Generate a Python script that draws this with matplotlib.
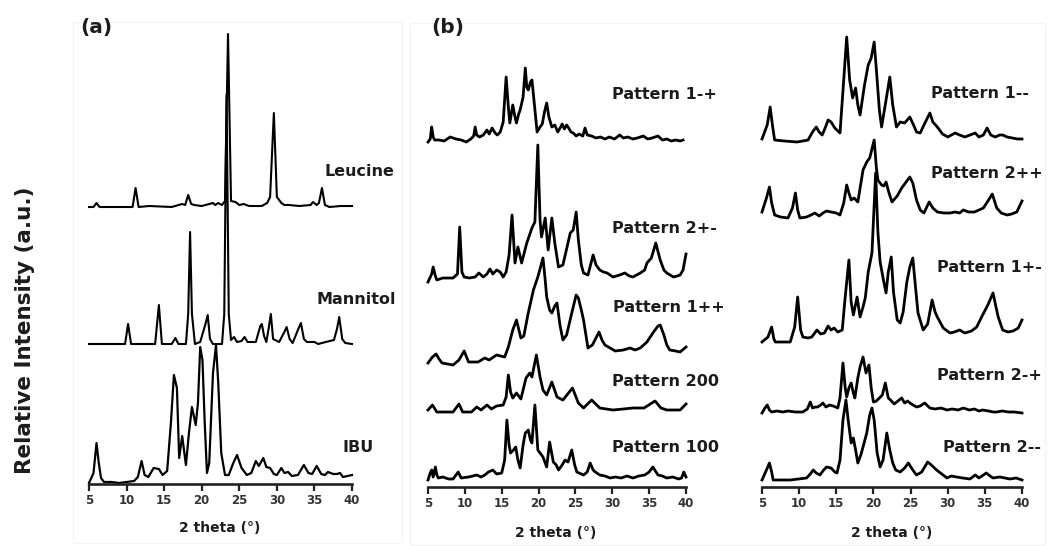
import numpy as np
import matplotlib
matplotlib.use("Agg")
import matplotlib.pyplot as plt
from matplotlib.patches import Rectangle

plt.rcParams['font.family'] = ['DejaVu Sans']

W, H = 1048, 546

# ---------------- diffraction data: (2 theta, relative intensity above trace baseline) ----------------
LEUCINE = [(5.0, 0), (5.6, 0), (6.0, 4), (6.4, 0), (8.0, 0), (10.8, 0), (11.2, 19), (11.6, 0), (13.0, 1),
           (16.0, 0), (17.4, 3), (17.8, 2), (18.2, 12), (18.6, 3), (19.0, 2), (20.0, 1), (21.0, 3), (21.5, 4),
           (21.8, 2), (22.2, 4), (22.7, 2), (23.1, 6), (23.5, 173), (23.9, 6), (24.5, 5), (25.0, 2), (25.6, 3),
           (26.3, 1), (28.0, 1), (28.7, 4), (29.1, 10), (29.6, 94), (30.0, 10), (30.6, 4), (31.0, 2), (31.6, 2),
           (33.0, 1), (34.5, 2), (34.8, 5), (35.3, 2), (35.6, 4), (36.0, 19), (36.4, 2), (37.0, 0), (38.5, 1),
           (40.0, 1)]

MANNITOL = [(5.0, 0), (9.8, 0), (10.2, 20), (10.6, 0), (13.8, 0), (14.3, 39), (14.7, 0), (16.0, 0), (16.5, 6),
            (16.9, 0), (17.9, 0), (18.2, 30), (18.45, 112), (18.7, 30), (19.1, 0), (19.8, 2), (20.5, 20),
            (20.8, 29), (21.1, 5), (21.5, 0), (22.7, 0), (23.0, 30), (23.3, 249), (23.6, 30), (23.9, 4),
            (24.3, 7), (24.7, 2), (25.3, 3), (25.7, 7), (26.1, 2), (27.2, 2), (27.8, 18), (28.0, 20), (28.3, 8),
            (28.6, 2), (28.9, 15), (29.2, 30), (29.5, 5), (30.3, 2), (31.0, 12), (31.3, 17), (31.7, 5),
            (32.1, 1), (32.8, 14), (33.2, 21), (33.6, 5), (34.0, 2), (35.0, 2), (35.5, 0), (36.5, 2),
            (37.6, 4), (38.0, 15), (38.3, 27), (38.7, 5), (39.1, 1), (40.0, 0)]

IBU = [(5.0, 0), (5.6, 10), (6.0, 40), (6.3, 20), (6.6, 5), (7.0, 1), (8.0, 1), (9.0, 0), (10.0, 1), (11.0, 2),
       (11.5, 6), (12.0, 22), (12.4, 8), (12.9, 6), (13.6, 15), (14.3, 14), (14.8, 8), (15.4, 12), (15.9, 60),
       (16.3, 108), (16.7, 95), (17.0, 25), (17.4, 47), (17.9, 18), (18.3, 50), (18.7, 76), (19.2, 58),
       (19.5, 80), (19.8, 136), (20.1, 123), (20.4, 60), (20.7, 10), (21.0, 20), (21.5, 110), (21.9, 138),
       (22.2, 100), (22.6, 30), (23.1, 8), (23.6, 8), (24.2, 20), (24.7, 28), (25.3, 15), (26.0, 8),
       (26.6, 10), (27.2, 22), (27.6, 17), (28.2, 25), (28.6, 16), (29.1, 15), (29.6, 9), (30.0, 8),
       (30.6, 15), (31.0, 10), (31.5, 11), (32.0, 7), (32.8, 8), (33.6, 18), (34.2, 10), (34.7, 9),
       (35.3, 17), (35.9, 9), (36.4, 8), (36.8, 11), (37.5, 9), (38.0, 9), (38.4, 10), (38.8, 6), (39.4, 7),
       (40.0, 8)]

P1_MP = [(5.0, 0), (5.3, 3), (5.5, 15), (5.7, 5), (5.9, 2), (6.5, 2), (7.2, 1), (8.0, 5), (8.8, 3), (9.5, 2),
         (10.2, 0), (10.8, 3), (11.2, 6), (11.4, 15), (11.6, 7), (12.0, 5), (12.5, 7), (13.0, 12), (13.3, 8),
         (13.7, 14), (14.1, 9), (14.4, 7), (14.8, 10), (15.2, 20), (15.6, 65), (15.9, 35), (16.1, 19),
         (16.5, 37), (16.8, 25), (17.0, 19), (17.3, 28), (17.5, 32), (17.9, 45), (18.2, 74), (18.4, 55),
         (18.6, 52), (18.9, 60), (19.1, 62), (19.4, 40), (19.8, 10), (20.2, 15), (20.5, 18), (20.8, 30),
         (21.1, 39), (21.4, 25), (21.8, 15), (22.2, 17), (22.6, 10), (23.0, 15), (23.2, 18), (23.5, 13),
         (23.8, 17), (24.0, 15), (24.4, 10), (24.7, 9), (25.1, 6), (25.5, 8), (26.0, 6), (26.3, 14), (26.6, 7),
         (27.2, 6), (27.8, 4), (28.4, 5), (29.0, 3), (29.6, 5), (30.3, 3), (31.0, 7), (31.5, 4), (32.1, 5),
         (32.8, 3), (33.4, 4), (34.2, 6), (34.8, 3), (35.4, 4), (36.2, 6), (36.8, 2), (37.4, 3), (38.0, 1),
         (38.6, 2), (39.2, 1), (39.6, 2)]

P2_PM = [(5.0, -2), (5.5, 6), (5.7, 13), (6.0, 4), (6.2, 0), (7.0, 2), (8.4, 2), (9.0, 6), (9.3, 53), (9.6, 8),
         (9.9, 3), (10.6, 2), (11.4, 3), (11.9, 7), (12.5, 3), (13.0, 6), (13.4, 11), (13.8, 6), (14.3, 10),
         (14.8, 8), (15.2, 3), (15.6, 8), (16.0, 25), (16.4, 65), (16.8, 17), (17.2, 33), (17.7, 17),
         (18.4, 37), (19.1, 52), (19.5, 58), (19.9, 135), (20.2, 60), (20.4, 43), (20.9, 62), (21.3, 30),
         (21.8, 62), (22.2, 37), (22.7, 13), (23.3, 15), (24.3, 47), (24.7, 50), (25.1, 68), (25.4, 40),
         (25.8, 15), (26.1, 7), (26.7, 5), (27.4, 25), (27.8, 15), (28.3, 10), (28.8, 8), (29.3, 7), (30.1, 3),
         (31.0, 5), (31.7, 7), (32.3, 4), (32.8, 3), (33.8, 7), (34.4, 10), (34.7, 17), (35.3, 22), (35.9, 37),
         (36.5, 20), (37.0, 10), (37.4, 7), (38.3, 3), (38.8, 4), (39.2, 5), (39.6, 10), (40.0, 26)]

P1_PP = [(5.0, 2), (5.6, 8), (6.1, 11), (6.5, 6), (6.9, 2), (8.4, 0), (9.2, 5), (9.9, 14), (10.5, 3), (11.8, 3),
         (12.7, 7), (13.3, 5), (14.3, 10), (15.4, 8), (15.9, 18), (16.5, 35), (17.0, 45), (17.6, 27), (18.0, 29),
         (18.6, 52), (19.3, 75), (19.9, 88), (20.6, 107), (20.9, 85), (21.1, 68), (21.5, 55), (21.8, 52),
         (22.2, 59), (22.5, 62), (22.9, 40), (23.3, 25), (23.8, 30), (24.6, 55), (25.1, 70), (25.4, 67),
         (25.8, 55), (26.1, 45), (26.7, 17), (27.3, 20), (28.2, 33), (28.6, 25), (29.0, 20), (30.4, 14),
         (31.5, 15), (32.4, 17), (33.1, 15), (33.8, 17), (34.7, 23), (35.6, 33), (36.2, 39), (36.5, 40),
         (37.0, 30), (37.4, 20), (37.8, 15), (38.6, 14), (39.2, 13), (40.0, 18)]

P200 = [(5.0, 2), (5.6, 7), (6.2, 0), (8.4, 0), (9.2, 8), (9.7, 0), (10.9, 0), (11.6, 5), (12.2, 2), (13.0, 7),
        (13.6, 3), (14.3, 6), (15.2, 7), (15.6, 15), (15.9, 37), (16.2, 20), (16.5, 14), (17.0, 19), (17.6, 13),
        (18.3, 34), (18.8, 39), (19.1, 35), (19.7, 57), (20.2, 35), (20.6, 22), (21.1, 17), (21.8, 30),
        (22.5, 15), (23.3, 12), (24.6, 24), (25.4, 9), (26.1, 4), (27.2, 12), (28.3, 4), (30.1, 2), (31.5, 3),
        (32.8, 4), (34.3, 4), (35.8, 11), (36.6, 4), (37.4, 2), (39.2, 2), (40.0, 8)]

P100 = [(5.0, 0), (5.3, 7), (5.5, 10), (5.7, 3), (6.0, 13), (6.2, 5), (6.4, 2), (7.0, 3), (7.8, 1), (8.4, 1),
        (9.1, 8), (9.5, 2), (10.5, 3), (11.1, 4), (11.6, 5), (12.2, 3), (12.7, 5), (13.2, 8), (13.8, 10),
        (14.3, 6), (15.0, 7), (15.4, 20), (15.7, 60), (16.0, 35), (16.2, 27), (16.6, 30), (16.9, 33), (17.2, 20),
        (17.5, 12), (17.9, 35), (18.2, 47), (18.6, 50), (18.9, 40), (19.1, 37), (19.5, 75), (19.9, 30),
        (20.2, 27), (20.6, 23), (21.1, 13), (21.5, 38), (22.0, 18), (22.4, 15), (22.7, 10), (23.2, 15),
        (23.6, 20), (24.0, 18), (24.5, 30), (24.9, 15), (25.2, 8), (26.1, 5), (26.6, 8), (27.0, 17), (27.4, 10),
        (27.7, 8), (28.3, 5), (29.0, 4), (29.7, 2), (30.4, 3), (31.2, 2), (32.0, 4), (32.8, 2), (33.6, 4),
        (34.4, 5), (35.0, 8), (35.5, 13), (36.2, 5), (36.8, 4), (37.4, 2), (38.2, 3), (39.0, 1), (39.4, 2),
        (39.7, 8), (40.0, 3)]

P1_MM = [(5.0, 3), (5.7, 17), (6.1, 35), (6.4, 17), (6.7, 2), (8.0, 1), (9.7, 0), (10.5, 1), (11.2, 2),
         (11.8, 10), (12.3, 15), (12.7, 10), (13.1, 7), (13.5, 14), (13.9, 22), (14.3, 20), (14.8, 14),
         (15.5, 9), (16.0, 62), (16.4, 105), (16.8, 62), (17.2, 44), (17.6, 54), (17.9, 37), (18.2, 27),
         (18.8, 57), (19.3, 77), (19.7, 84), (20.1, 100), (20.4, 72), (20.8, 32), (21.1, 15), (21.7, 42),
         (22.2, 65), (22.6, 37), (23.1, 15), (23.6, 20), (24.2, 19), (24.9, 25), (25.4, 17), (25.8, 10),
         (26.3, 9), (26.8, 17), (27.6, 29), (28.0, 20), (28.6, 15), (29.3, 8), (30.0, 5), (30.5, 7), (31.0, 9),
         (31.6, 7), (32.3, 5), (33.0, 7), (33.7, 9), (34.2, 5), (34.8, 7), (35.3, 14), (35.8, 7), (36.4, 5),
         (37.0, 7), (37.4, 7), (38.0, 5), (38.7, 4), (39.4, 3), (40.0, 3)]

P2_PP = [(5.0, 6), (5.6, 20), (6.0, 31), (6.3, 15), (6.7, 3), (7.5, 1), (8.5, 0), (9.1, 10), (9.5, 25), (9.8, 8),
         (10.1, 0), (11.0, 1), (11.6, 3), (12.1, 5), (12.7, 2), (13.2, 5), (13.7, 7), (14.3, 6), (15.0, 5),
         (15.5, 3), (16.0, 15), (16.4, 33), (16.7, 25), (17.0, 18), (17.4, 20), (17.9, 16), (18.6, 48),
         (19.1, 56), (19.5, 60), (20.1, 78), (20.4, 50), (20.6, 38), (21.1, 33), (21.4, 32), (21.7, 36),
         (22.1, 25), (22.5, 16), (23.2, 22), (23.8, 30), (24.3, 35), (24.9, 41), (25.3, 35), (25.8, 18),
         (26.3, 8), (26.8, 5), (27.5, 16), (28.0, 10), (28.6, 6), (29.5, 5), (30.3, 5), (31.0, 6), (31.6, 5),
         (32.1, 8), (32.8, 6), (33.6, 6), (34.2, 8), (34.8, 10), (35.5, 18), (36.0, 24), (36.6, 10), (37.2, 5),
         (38.0, 3), (38.6, 4), (39.3, 6), (40.0, 17)]

P1_PM = [(5.0, 0), (5.8, 5), (6.3, 15), (6.6, 3), (6.8, 0), (8.0, 0), (8.8, 0), (9.4, 15), (9.8, 45), (10.2, 12),
         (10.5, 5), (11.2, 4), (11.7, 5), (12.4, 12), (12.9, 8), (13.4, 9), (13.9, 16), (14.3, 12), (14.7, 14),
         (15.2, 10), (15.8, 12), (16.2, 45), (16.7, 82), (17.0, 40), (17.3, 27), (17.8, 45), (18.2, 25),
         (18.6, 35), (18.9, 44), (19.3, 70), (19.8, 89), (20.3, 169), (20.6, 110), (20.9, 80), (21.1, 72),
         (21.4, 60), (21.7, 49), (22.0, 70), (22.4, 85), (22.7, 50), (23.2, 22), (23.6, 19), (24.0, 30),
         (24.5, 60), (24.9, 75), (25.3, 84), (25.6, 60), (26.0, 29), (26.7, 12), (27.3, 18), (27.9, 42),
         (28.3, 30), (28.6, 25), (29.4, 14), (30.3, 9), (30.9, 10), (31.6, 12), (32.3, 9), (33.2, 11),
         (33.9, 15), (34.7, 27), (35.4, 37), (36.1, 49), (36.5, 35), (36.8, 25), (37.4, 12), (38.1, 10),
         (38.8, 11), (39.5, 14), (40.0, 22)]

P2_MP = [(5.0, 0), (5.4, 5), (5.7, 8), (6.0, 3), (6.3, 1), (7.0, 2), (7.8, 1), (8.5, 2), (9.5, 1), (10.5, 1),
         (11.1, 4), (11.5, 11), (11.8, 5), (12.2, 6), (12.5, 6), (12.9, 8), (13.2, 10), (13.6, 6), (14.1, 8),
         (14.6, 7), (15.2, 5), (15.5, 15), (15.9, 50), (16.2, 25), (16.4, 16), (16.7, 25), (17.0, 30),
         (17.3, 20), (17.5, 15), (17.9, 35), (18.2, 46), (18.6, 56), (19.0, 40), (19.4, 48), (19.7, 25),
         (20.0, 11), (20.4, 12), (20.8, 15), (21.2, 18), (21.6, 30), (22.0, 15), (22.3, 13), (22.8, 9),
         (23.3, 12), (23.8, 15), (24.2, 10), (24.6, 12), (25.1, 9), (25.8, 6), (26.3, 7), (26.9, 10), (27.6, 5),
         (28.3, 4), (29.1, 5), (29.9, 3), (30.6, 4), (31.4, 3), (32.1, 5), (32.9, 3), (33.6, 4), (34.2, 2),
         (34.7, 3), (35.5, 2), (36.1, 1), (36.6, 1), (37.3, 2), (38.2, 1), (39.0, 1), (40.0, 0)]

P2_MM = [(5.0, 0), (5.6, 10), (6.0, 17), (6.3, 8), (6.5, 0), (8.8, 0), (11.0, 2), (11.5, 6), (11.9, 10),
         (12.3, 7), (12.8, 5), (13.3, 10), (13.7, 13), (14.3, 12), (14.8, 8), (15.1, 7), (15.5, 20), (15.9, 60),
         (16.3, 80), (16.6, 60), (17.0, 37), (17.3, 42), (17.6, 30), (17.9, 17), (18.3, 25), (18.6, 33),
         (19.1, 47), (19.5, 65), (19.8, 72), (20.1, 60), (20.5, 27), (20.9, 13), (21.3, 20), (21.8, 47),
         (22.2, 30), (22.6, 17), (23.0, 10), (23.6, 8), (24.2, 12), (24.7, 17), (25.3, 10), (25.8, 5), (26.5, 8),
         (27.3, 18), (27.8, 15), (28.5, 10), (29.2, 6), (29.9, 2), (30.5, 4), (31.2, 3), (32.0, 2), (33.0, 1),
         (33.7, 5), (34.2, 2), (35.2, 7), (35.7, 4), (36.1, 2), (37.0, 3), (38.4, 1), (39.2, 2), (40.0, 0)]

X_TICKS = [5, 10, 15, 20, 25, 30, 35, 40]
X_LABEL = "2 theta (°)"
Y_LABEL = "Relative Intensity (a.u.)"


def fx(px):
    return px / W


def fy(py):
    return 1 - py / H


fig = plt.figure(figsize=(W / 100, H / 100), dpi=100)

# faint panel frames
for (x0, y0, x1, y1) in [(73, 22, 402, 543), (410, 23, 1045, 545)]:
    fig.patches.append(Rectangle((fx(x0), fy(y1)), fx(x1) - fx(x0), fy(y0) - fy(y1),
                                 transform=fig.transFigure, fill=False, ec='#f3f3f3', lw=0.8))

TEXT = '#1c1c1c'


def make_axes(left_px, right_px, axis_py, top_py=20):
    ax = fig.add_axes([fx(left_px), fy(axis_py), fx(right_px) - fx(left_px), fy(top_py) - fy(axis_py)])
    ax.set_xlim(5, 40)
    ax.set_ylim(0, axis_py - top_py)
    for s in ('top', 'right', 'left'):
        ax.spines[s].set_visible(False)
    ax.spines['bottom'].set_linewidth(1.9)
    ax.spines['bottom'].set_color('#222222')
    ax.set_yticks([])
    ax.set_xticks(X_TICKS)
    ax.tick_params(axis='x', direction='out', length=5, width=1.6, color='#222222',
                   labelsize=8.5, labelcolor='#333333', pad=2)
    for lab in ax.get_xticklabels():
        lab.set_fontweight('bold')
    ax.patch.set_visible(False)
    return ax


def draw(ax, trace, offset, lw):
    tt, inten = np.array(trace, dtype=float).T
    ax.plot(tt, inten + offset, color='black', lw=lw, solid_joinstyle='round', clip_on=False)


def label(px, py, s, size=11.5):
    fig.text(fx(px), fy(py), s, ha='left', va='center', fontsize=size, fontweight='bold', color=TEXT)


# ---- panel (a): raw materials ----
ax_a = make_axes(89, 352, 484)
draw(ax_a, LEUCINE, 277, 1.5)
draw(ax_a, MANNITOL, 140, 1.5)
draw(ax_a, IBU, 1, 1.6)
label(325, 172, "Leucine")
label(317, 300, "Mannitol")
label(343, 448, "IBU")
fig.text(fx(220), fy(528), X_LABEL, ha='center', va='center', fontsize=10, fontweight='bold', color=TEXT)

# ---- panel (b): spray-dried formulations ----
ax_b1 = make_axes(428, 686, 487)
draw(ax_b1, P1_MP, 345, 2.0)
draw(ax_b1, P2_PM, 207, 2.0)
draw(ax_b1, P1_PP, 122, 2.0)
draw(ax_b1, P200, 75, 2.0)
draw(ax_b1, P100, 7, 2.0)
label(612, 94, "Pattern 1-+")
label(612, 228, "Pattern 2+-")
label(613, 308, "Pattern 1++")
label(612, 382, "Pattern 200")
label(612, 447, "Pattern 100")
fig.text(fx(556), fy(533), X_LABEL, ha='center', va='center', fontsize=10, fontweight='bold', color=TEXT)

ax_b2 = make_axes(762, 1022, 487)
draw(ax_b2, P1_MM, 345, 2.0)
draw(ax_b2, P2_PP, 269, 2.0)
draw(ax_b2, P1_PM, 145, 2.0)
draw(ax_b2, P2_MP, 74, 2.0)
draw(ax_b2, P2_MM, 7, 2.0)
label(931, 93, "Pattern 1--")
label(931, 173, "Pattern 2++")
label(937, 268, "Pattern 1+-")
label(937, 375, "Pattern 2-+")
label(943, 447, "Pattern 2--")
fig.text(fx(892), fy(533), X_LABEL, ha='center', va='center', fontsize=10, fontweight='bold', color=TEXT)

# panel letters and shared y label
fig.text(fx(80), fy(28), "(a)", ha='left', va='center', fontsize=14.5, fontweight='bold', color=TEXT)
fig.text(fx(431), fy(28), "(b)", ha='left', va='center', fontsize=14.5, fontweight='bold', color=TEXT)
fig.text(fx(25), fy(330), Y_LABEL, ha='center', va='center', rotation=90, fontsize=15.5,
         fontweight='bold', color=TEXT)

fig.savefig("out.png", dpi=100)
